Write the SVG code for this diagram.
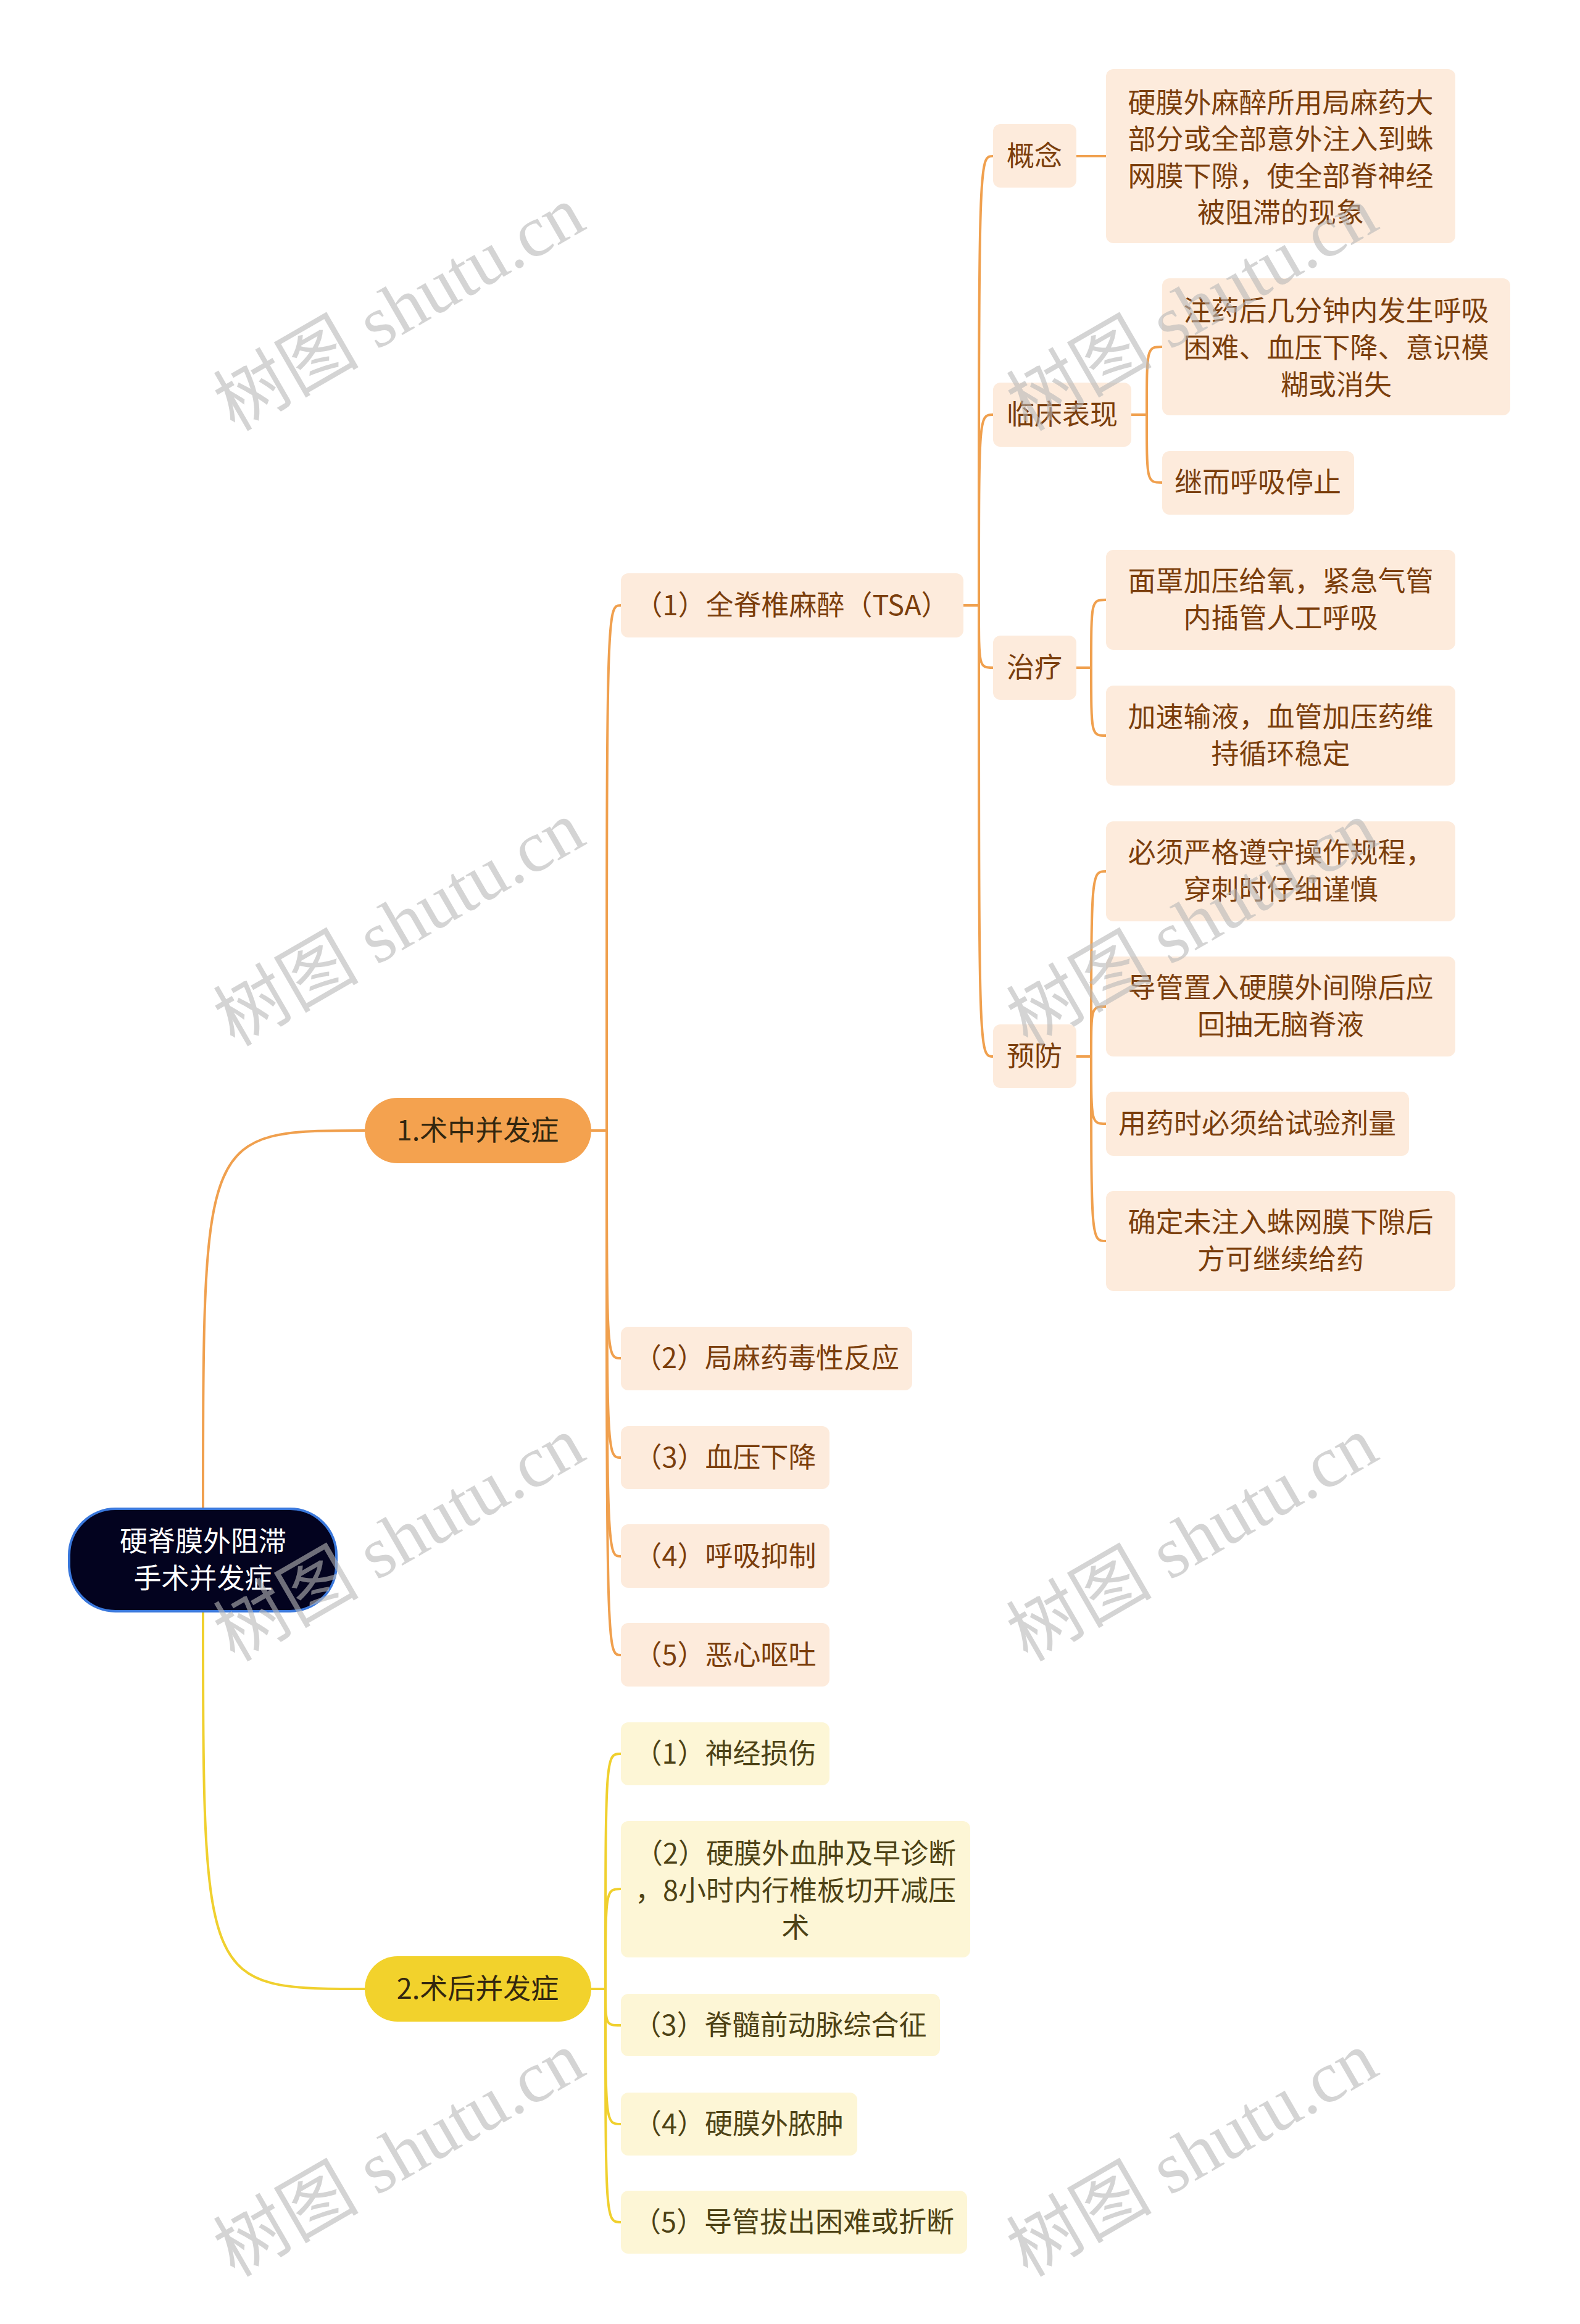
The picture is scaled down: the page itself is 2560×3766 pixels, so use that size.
<svg xmlns="http://www.w3.org/2000/svg" width="2560" height="3766" viewBox="0 0 2560 3766">
<style>
text { font-family: "Noto Sans CJK SC", "Noto Sans", sans-serif; font-size: 45px; text-anchor: middle; }
.root-box { fill: #03031f; stroke: #3a78dc; stroke-width: 4; }
.root-t { fill: #ffffff; }
.l1o { fill: #f4a24f; }
.l1y { fill: #f2d22c; }
.l1t { fill: #33270f; }
.po { fill: #fdebdc; }
.pot { fill: #7b3e0c; }
.py { fill: #fdf6d6; }
.pyt { fill: #4d4215; }
.co { fill: none; stroke: #f0a04e; stroke-width: 4; }
.cy { fill: none; stroke: #f0d02e; stroke-width: 4; }
.wm { font-family: "Liberation Serif", "Noto Sans CJK SC", serif; font-size: 118px; fill: #b8b8b8; fill-opacity: 0.6; text-anchor: start; }
</style>

<g id="connectors">
  <path class="co" d="M 329 2445 C 329 1832 329 1832 591 1832"/>
  <path class="co" d="M 958 1832 L 983 1832"/>
  <path class="co" d="M 983 1832 C 983 981 983 981 1006 981"/>
  <path class="co" d="M 983 1832 C 983 2201 983 2201 1006 2201"/>
  <path class="co" d="M 983 1832 C 983 2362 983 2362 1006 2362"/>
  <path class="co" d="M 983 1832 C 983 2522 983 2522 1006 2522"/>
  <path class="co" d="M 983 1832 C 983 2682 983 2682 1006 2682"/>
  <path class="co" d="M 1561 981 L 1586 981"/>
  <path class="co" d="M 1586 981 C 1586 253 1586 253 1609 253"/>
  <path class="co" d="M 1586 981 C 1586 672 1586 672 1609 672"/>
  <path class="co" d="M 1586 981 C 1586 1082 1586 1082 1609 1082"/>
  <path class="co" d="M 1586 981 C 1586 1712 1586 1712 1609 1712"/>
  <path class="co" d="M 1744 253 L 1792 253"/>
  <path class="co" d="M 1833 672 L 1858 672"/>
  <path class="co" d="M 1858 672 C 1858 562 1858 562 1883 562"/>
  <path class="co" d="M 1858 672 C 1858 782 1858 782 1883 782"/>
  <path class="co" d="M 1744 1082 L 1768 1082"/>
  <path class="co" d="M 1768 1082 C 1768 972 1768 972 1792 972"/>
  <path class="co" d="M 1768 1082 C 1768 1192 1768 1192 1792 1192"/>
  <path class="co" d="M 1744 1712 L 1768 1712"/>
  <path class="co" d="M 1768 1712 C 1768 1412 1768 1412 1792 1412"/>
  <path class="co" d="M 1768 1712 C 1768 1631 1768 1631 1792 1631"/>
  <path class="co" d="M 1768 1712 C 1768 1821 1768 1821 1792 1821"/>
  <path class="co" d="M 1768 1712 C 1768 2011 1768 2011 1792 2011"/>
  <path class="cy" d="M 329 2611 C 329 3223 329 3223 591 3223"/>
  <path class="cy" d="M 958 3223 L 981 3223"/>
  <path class="cy" d="M 981 3223 C 981 2842 981 2842 1006 2842"/>
  <path class="cy" d="M 981 3223 C 981 3061 981 3061 1006 3061"/>
  <path class="cy" d="M 981 3223 C 981 3282 981 3282 1006 3282"/>
  <path class="cy" d="M 981 3223 C 981 3442 981 3442 1006 3442"/>
  <path class="cy" d="M 981 3223 C 981 3601 981 3601 1006 3601"/>
</g>

<g id="root">
  <rect class="root-box" x="112" y="2445" width="433" height="166" rx="75" ry="75"/>
  <text class="root-t" x="329" y="2514">硬脊膜外阻滞</text>
  <text class="root-t" x="329" y="2574">手术并发症</text>
</g>

<g id="n1">
  <rect class="l1o" x="591" y="1779" width="367" height="106" rx="53"/>
  <text class="l1t" x="774" y="1848">1.术中并发症</text>
</g>
<g id="n2">
  <rect class="l1y" x="591" y="3170" width="367" height="106" rx="53"/>
  <text class="l1t" x="774" y="3239">2.术后并发症</text>
</g>

<g id="n1-1">
  <rect class="po" x="1006" y="929" width="555" height="104" rx="12"/>
  <text class="pot" x="1283" y="997">（1）全脊椎麻醉（TSA）</text>
</g>
<g id="n1-2">
  <rect class="po" x="1006" y="2150" width="472" height="103" rx="12"/>
  <text class="pot" x="1242" y="2217">（2）局麻药毒性反应</text>
</g>
<g id="n1-3">
  <rect class="po" x="1006" y="2311" width="338" height="102" rx="12"/>
  <text class="pot" x="1175" y="2378">（3）血压下降</text>
</g>
<g id="n1-4">
  <rect class="po" x="1006" y="2470" width="338" height="103" rx="12"/>
  <text class="pot" x="1175" y="2538">（4）呼吸抑制</text>
</g>
<g id="n1-5">
  <rect class="po" x="1006" y="2630" width="338" height="103" rx="12"/>
  <text class="pot" x="1175" y="2698">（5）恶心呕吐</text>
</g>

<g id="n1-1-1">
  <rect class="po" x="1609" y="201" width="135" height="103" rx="12"/>
  <text class="pot" x="1676" y="269">概念</text>
</g>
<g id="n1-1-1-1">
  <rect class="po" x="1792" y="112" width="566" height="282" rx="12"/>
  <text class="pot" x="2075" y="183">硬膜外麻醉所用局麻药大</text>
  <text class="pot" x="2075" y="242">部分或全部意外注入到蛛</text>
  <text class="pot" x="2075" y="302">网膜下隙，使全部脊神经</text>
  <text class="pot" x="2075" y="361">被阻滞的现象</text>
</g>
<g id="n1-1-2">
  <rect class="po" x="1609" y="620" width="224" height="104" rx="12"/>
  <text class="pot" x="1721" y="688">临床表现</text>
</g>
<g id="n1-1-2-1">
  <rect class="po" x="1883" y="451" width="564" height="222" rx="12"/>
  <text class="pot" x="2165" y="520">注药后几分钟内发生呼吸</text>
  <text class="pot" x="2165" y="580">困难、血压下降、意识模</text>
  <text class="pot" x="2165" y="640">糊或消失</text>
</g>
<g id="n1-1-2-2">
  <rect class="po" x="1883" y="731" width="311" height="103" rx="12"/>
  <text class="pot" x="2038" y="798">继而呼吸停止</text>
</g>
<g id="n1-1-3">
  <rect class="po" x="1609" y="1030" width="135" height="104" rx="12"/>
  <text class="pot" x="1676" y="1098">治疗</text>
</g>
<g id="n1-1-3-1">
  <rect class="po" x="1792" y="891" width="566" height="162" rx="12"/>
  <text class="pot" x="2075" y="958">面罩加压给氧，紧急气管</text>
  <text class="pot" x="2075" y="1018">内插管人工呼吸</text>
</g>
<g id="n1-1-3-2">
  <rect class="po" x="1792" y="1111" width="566" height="162" rx="12"/>
  <text class="pot" x="2075" y="1178">加速输液，血管加压药维</text>
  <text class="pot" x="2075" y="1238">持循环稳定</text>
</g>
<g id="n1-1-4">
  <rect class="po" x="1609" y="1660" width="135" height="103" rx="12"/>
  <text class="pot" x="1676" y="1728">预防</text>
</g>
<g id="n1-1-4-1">
  <rect class="po" x="1792" y="1331" width="566" height="162" rx="12"/>
  <text class="pot" x="2075" y="1398">必须严格遵守操作规程，</text>
  <text class="pot" x="2075" y="1458">穿刺时仔细谨慎</text>
</g>
<g id="n1-1-4-2">
  <rect class="po" x="1792" y="1550" width="566" height="162" rx="12"/>
  <text class="pot" x="2075" y="1617">导管置入硬膜外间隙后应</text>
  <text class="pot" x="2075" y="1677">回抽无脑脊液</text>
</g>
<g id="n1-1-4-3">
  <rect class="po" x="1792" y="1769" width="491" height="104" rx="12"/>
  <text class="pot" x="2037" y="1837">用药时必须给试验剂量</text>
</g>
<g id="n1-1-4-4">
  <rect class="po" x="1792" y="1930" width="566" height="162" rx="12"/>
  <text class="pot" x="2075" y="1997">确定未注入蛛网膜下隙后</text>
  <text class="pot" x="2075" y="2057">方可继续给药</text>
</g>

<g id="n2-1">
  <rect class="py" x="1006" y="2791" width="338" height="102" rx="12"/>
  <text class="pyt" x="1175" y="2858">（1）神经损伤</text>
</g>
<g id="n2-2">
  <rect class="py" x="1006" y="2951" width="566" height="221" rx="12"/>
  <text class="pyt" x="1289" y="3020">（2）硬膜外血肿及早诊断</text>
  <text class="pyt" x="1289" y="3080">，8小时内行椎板切开减压</text>
  <text class="pyt" x="1289" y="3140">术</text>
</g>
<g id="n2-3">
  <rect class="py" x="1006" y="3231" width="517" height="101" rx="12"/>
  <text class="pyt" x="1264" y="3298">（3）脊髓前动脉综合征</text>
</g>
<g id="n2-4">
  <rect class="py" x="1006" y="3391" width="383" height="102" rx="12"/>
  <text class="pyt" x="1197" y="3458">（4）硬膜外脓肿</text>
</g>
<g id="n2-5">
  <rect class="py" x="1006" y="3550" width="561" height="102" rx="12"/>
  <text class="pyt" x="1286" y="3617">（5）导管拔出困难或折断</text>
</g>

<g id="watermarks">
  <text class="wm" transform="translate(380 700) rotate(-30)">树图 shutu.cn</text>
  <text class="wm" transform="translate(1665 700) rotate(-30)">树图 shutu.cn</text>
  <text class="wm" transform="translate(380 1697) rotate(-30)">树图 shutu.cn</text>
  <text class="wm" transform="translate(1665 1697) rotate(-30)">树图 shutu.cn</text>
  <text class="wm" transform="translate(380 2694) rotate(-30)">树图 shutu.cn</text>
  <text class="wm" transform="translate(1665 2694) rotate(-30)">树图 shutu.cn</text>
  <text class="wm" transform="translate(380 3691) rotate(-30)">树图 shutu.cn</text>
  <text class="wm" transform="translate(1665 3691) rotate(-30)">树图 shutu.cn</text>
</g>
</svg>
